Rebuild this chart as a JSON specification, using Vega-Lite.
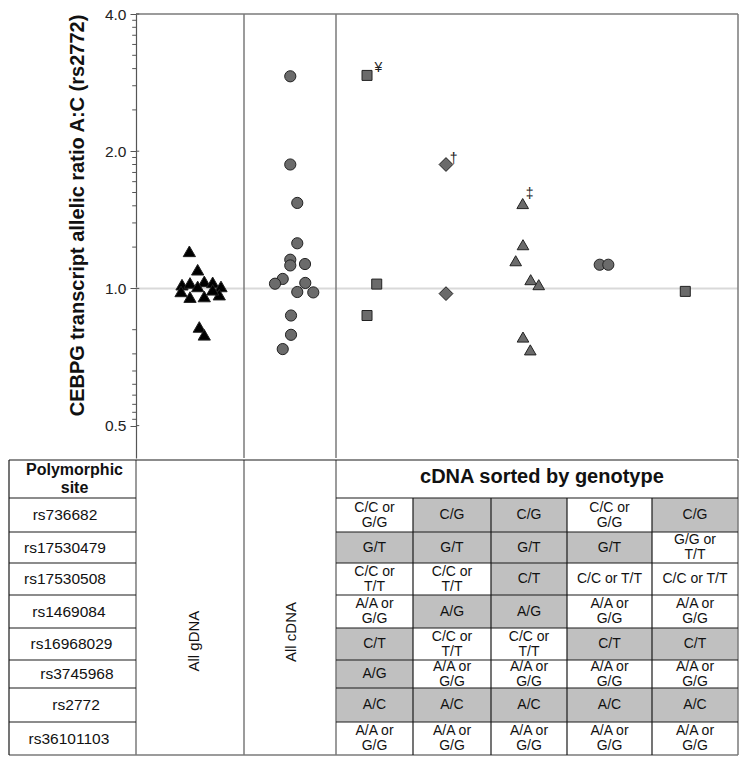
{
  "$schema": "https://vega.github.io/schema/vega-lite/v6.json",
  "padding": {"left": 8, "top": 7, "right": 9, "bottom": 10},
  "spacing": 0,
  "config": {"font": "Liberation Sans", "view": {"stroke": null}},
  "resolve": {"scale": {"x": "independent", "y": "independent"}},
  "vconcat": [
    {
      "width": 602,
      "height": 444,
      "layer": [
        {
          "data": {"values": [{}]},
          "mark": {"type": "rule", "color": "#d9d9d9", "strokeWidth": 2},
          "encoding": {
            "x": {"datum": 0, "type": "quantitative", "scale": {"type": "linear", "domain": [-1, 0, 1, 2, 3, 4, 5, 6, 7], "range": [-127, 0, 108, 200, 277, 355, 431, 516, 602], "nice": false, "zero": false}, "axis": null},
            "x2": {"datum": 7},
            "y": {"datum": 1, "type": "quantitative", "scale": {"type": "log", "domain": [0.4245, 4], "nice": false}}
          }
        },
        {
          "data": {"values": [{"edge": 1}, {"edge": 2}, {"edge": 7}]},
          "mark": {"type": "rule", "color": "#7a7a7a", "strokeWidth": 1.5},
          "encoding": {
            "x": {"field": "edge", "type": "quantitative", "axis": null}
          }
        },
        {
          "data": {"values": [{}]},
          "mark": {"type": "rule", "color": "#7a7a7a", "strokeWidth": 1.5},
          "encoding": {
            "x": {"datum": 0, "type": "quantitative", "axis": null},
            "x2": {"datum": 7},
            "y": {"datum": 4, "type": "quantitative"}
          }
        },
        {
          "data": {"values": [
            {"minor": 0.51613}, {"minor": 0.53475}, {"minor": 0.55669}, {"minor": 0.58313}, {"minor": 0.61603}, {"minor": 0.65882}, {"minor": 0.71841}, {"minor": 0.81168},
            {"minor": 1.23202}, {"minor": 1.39197}, {"minor": 1.51787}, {"minor": 1.62331}, {"minor": 1.71489}, {"minor": 1.79633}, {"minor": 1.87002}, {"minor": 1.93751},
            {"minor": 2.46404}, {"minor": 2.78394}, {"minor": 3.03574}, {"minor": 3.24662}, {"minor": 3.42978}, {"minor": 3.59266}, {"minor": 3.74004}, {"minor": 3.87502}
          ]},
          "mark": {"type": "rule", "color": "#555555", "strokeWidth": 1},
          "encoding": {
            "x": {"datum": -0.03, "type": "quantitative", "axis": null},
            "x2": {"datum": 0},
            "y": {"field": "minor", "type": "quantitative"}
          }
        },
        {
          "data": {"values": [{"major": 0.5}, {"major": 1}, {"major": 2}, {"major": 4}]},
          "mark": {"type": "rule", "color": "#555555", "strokeWidth": 1},
          "encoding": {
            "x": {"datum": 0, "type": "quantitative", "axis": null},
            "x2": {"datum": 0.03},
            "y": {"field": "major", "type": "quantitative"}
          }
        },
        {
          "data": {"values": [
            {"set": "gDNA", "pos": 0.494, "ratio": 1.206},
            {"set": "gDNA", "pos": 0.571, "ratio": 1.099},
            {"set": "gDNA", "pos": 0.426, "ratio": 1.019},
            {"set": "gDNA", "pos": 0.5, "ratio": 1.028},
            {"set": "gDNA", "pos": 0.632, "ratio": 1.036},
            {"set": "gDNA", "pos": 0.71, "ratio": 1.031},
            {"set": "gDNA", "pos": 0.787, "ratio": 1.01},
            {"set": "gDNA", "pos": 0.417, "ratio": 0.985},
            {"set": "gDNA", "pos": 0.571, "ratio": 1.01},
            {"set": "gDNA", "pos": 0.5, "ratio": 0.957},
            {"set": "gDNA", "pos": 0.632, "ratio": 0.96},
            {"set": "gDNA", "pos": 0.771, "ratio": 0.969},
            {"set": "gDNA", "pos": 0.71, "ratio": 0.993},
            {"set": "gDNA", "pos": 0.586, "ratio": 0.823},
            {"set": "gDNA", "pos": 0.632, "ratio": 0.791},
            {"set": "cDNA", "pos": 1.503, "ratio": 2.92},
            {"set": "cDNA", "pos": 1.503, "ratio": 1.87},
            {"set": "cDNA", "pos": 1.579, "ratio": 1.54},
            {"set": "cDNA", "pos": 1.579, "ratio": 1.256},
            {"set": "cDNA", "pos": 1.503, "ratio": 1.156},
            {"set": "cDNA", "pos": 1.503, "ratio": 1.123},
            {"set": "cDNA", "pos": 1.663, "ratio": 1.131},
            {"set": "cDNA", "pos": 1.421, "ratio": 1.049},
            {"set": "cDNA", "pos": 1.337, "ratio": 1.024},
            {"set": "cDNA", "pos": 1.666, "ratio": 1.028},
            {"set": "cDNA", "pos": 1.579, "ratio": 0.982},
            {"set": "cDNA", "pos": 1.753, "ratio": 0.98},
            {"set": "cDNA", "pos": 1.511, "ratio": 0.872},
            {"set": "cDNA", "pos": 1.511, "ratio": 0.791},
            {"set": "cDNA", "pos": 1.421, "ratio": 0.736},
            {"set": "G1", "pos": 2.403, "ratio": 2.933},
            {"set": "G1", "pos": 2.529, "ratio": 1.022},
            {"set": "G1", "pos": 2.403, "ratio": 0.872},
            {"set": "G2", "pos": 3.423, "ratio": 1.87},
            {"set": "G2", "pos": 3.423, "ratio": 0.974},
            {"set": "G3", "pos": 4.417, "ratio": 1.535},
            {"set": "G3", "pos": 4.421, "ratio": 1.247},
            {"set": "G3", "pos": 4.325, "ratio": 1.15},
            {"set": "G3", "pos": 4.522, "ratio": 1.045},
            {"set": "G3", "pos": 4.628, "ratio": 1.019},
            {"set": "G3", "pos": 4.421, "ratio": 0.782},
            {"set": "G3", "pos": 4.517, "ratio": 0.733},
            {"set": "G4", "pos": 5.385, "ratio": 1.127},
            {"set": "G4", "pos": 5.486, "ratio": 1.127},
            {"set": "G5", "pos": 6.387, "ratio": 0.985}
          ]},
          "mark": {"type": "point", "filled": true, "opacity": 1, "stroke": "#222222", "strokeWidth": 1},
          "encoding": {
            "x": {"field": "pos", "type": "quantitative", "axis": null},
            "y": {
              "field": "ratio",
              "type": "quantitative",
              "axis": {
                "orient": "left",
                "values": [0.5, 1, 2, 4],
                "format": ".1f",
                "tickSize": 6,
                "title": "CEBPG transcript allelic ratio A:C (rs2772)",
                "titleFontSize": 20,
                "titleFontWeight": "bold",
                "titleColor": "#111111",
                "titlePadding": 17,
                "titleY": 201,
                "labelFontSize": 15.5,
                "labelColor": "#222222",
                "labelPadding": 4,
                "labelOverlap": false,
                "domainColor": "#555555",
                "domainWidth": 1.2,
                "tickColor": "#555555",
                "tickWidth": 1,
                "grid": false
              }
            },
            "shape": {"field": "set", "type": "nominal", "legend": null, "scale": {"type": "ordinal", "domain": ["gDNA", "cDNA", "G1", "G2", "G3", "G4", "G5"], "range": ["triangle-up", "circle", "square", "diamond", "triangle-up", "circle", "square"]}},
            "fill": {"field": "set", "type": "nominal", "legend": null, "scale": {"type": "ordinal", "domain": ["gDNA", "cDNA", "G1", "G2", "G3", "G4", "G5"], "range": ["#000000", "#6b6b6b", "#6b6b6b", "#6b6b6b", "#6b6b6b", "#6b6b6b", "#6b6b6b"]}},
            "size": {"field": "set", "type": "nominal", "legend": null, "scale": {"type": "ordinal", "domain": ["gDNA", "cDNA", "G1", "G2", "G3", "G4", "G5"], "range": [150, 125, 100, 190, 135, 125, 100]}}
          }
        },
        {
          "data": {"values": [
            {"note": "¥", "pos": 2.549, "ratio": 3.05},
            {"note": "†", "pos": 3.522, "ratio": 1.918},
            {"note": "‡", "pos": 4.509, "ratio": 1.615}
          ]},
          "mark": {"type": "text", "fontSize": 14, "color": "#222222", "align": "center", "baseline": "middle"},
          "encoding": {
            "x": {"field": "pos", "type": "quantitative", "axis": null},
            "y": {"field": "ratio", "type": "quantitative"},
            "text": {"field": "note"}
          }
        }
      ]
    },
    {
      "width": 602,
      "height": 295,
      "layer": [
        {
          "data": {"name": "cells", "values": [
            {"site": "rs736682", "x0": 2, "x1": 3, "y0": 1, "y1": 2, "xc": 2.5, "yc": 1.5, "geno": "C/C or\nG/G", "zyg": "hom"},
            {"site": "rs736682", "x0": 3, "x1": 4, "y0": 1, "y1": 2, "xc": 3.5, "yc": 1.5, "geno": "C/G", "zyg": "het"},
            {"site": "rs736682", "x0": 4, "x1": 5, "y0": 1, "y1": 2, "xc": 4.5, "yc": 1.5, "geno": "C/G", "zyg": "het"},
            {"site": "rs736682", "x0": 5, "x1": 6, "y0": 1, "y1": 2, "xc": 5.5, "yc": 1.5, "geno": "C/C or\nG/G", "zyg": "hom"},
            {"site": "rs736682", "x0": 6, "x1": 7, "y0": 1, "y1": 2, "xc": 6.5, "yc": 1.5, "geno": "C/G", "zyg": "het"},
            {"site": "rs17530479", "x0": 2, "x1": 3, "y0": 2, "y1": 3, "xc": 2.5, "yc": 2.5, "geno": "G/T", "zyg": "het"},
            {"site": "rs17530479", "x0": 3, "x1": 4, "y0": 2, "y1": 3, "xc": 3.5, "yc": 2.5, "geno": "G/T", "zyg": "het"},
            {"site": "rs17530479", "x0": 4, "x1": 5, "y0": 2, "y1": 3, "xc": 4.5, "yc": 2.5, "geno": "G/T", "zyg": "het"},
            {"site": "rs17530479", "x0": 5, "x1": 6, "y0": 2, "y1": 3, "xc": 5.5, "yc": 2.5, "geno": "G/T", "zyg": "het"},
            {"site": "rs17530479", "x0": 6, "x1": 7, "y0": 2, "y1": 3, "xc": 6.5, "yc": 2.5, "geno": "G/G or\nT/T", "zyg": "hom"},
            {"site": "rs17530508", "x0": 2, "x1": 3, "y0": 3, "y1": 4, "xc": 2.5, "yc": 3.5, "geno": "C/C or\nT/T", "zyg": "hom"},
            {"site": "rs17530508", "x0": 3, "x1": 4, "y0": 3, "y1": 4, "xc": 3.5, "yc": 3.5, "geno": "C/C or\nT/T", "zyg": "hom"},
            {"site": "rs17530508", "x0": 4, "x1": 5, "y0": 3, "y1": 4, "xc": 4.5, "yc": 3.5, "geno": "C/T", "zyg": "het"},
            {"site": "rs17530508", "x0": 5, "x1": 6, "y0": 3, "y1": 4, "xc": 5.5, "yc": 3.5, "geno": "C/C or T/T", "zyg": "hom"},
            {"site": "rs17530508", "x0": 6, "x1": 7, "y0": 3, "y1": 4, "xc": 6.5, "yc": 3.5, "geno": "C/C or T/T", "zyg": "hom"},
            {"site": "rs1469084", "x0": 2, "x1": 3, "y0": 4, "y1": 5, "xc": 2.5, "yc": 4.5, "geno": "A/A or\nG/G", "zyg": "hom"},
            {"site": "rs1469084", "x0": 3, "x1": 4, "y0": 4, "y1": 5, "xc": 3.5, "yc": 4.5, "geno": "A/G", "zyg": "het"},
            {"site": "rs1469084", "x0": 4, "x1": 5, "y0": 4, "y1": 5, "xc": 4.5, "yc": 4.5, "geno": "A/G", "zyg": "het"},
            {"site": "rs1469084", "x0": 5, "x1": 6, "y0": 4, "y1": 5, "xc": 5.5, "yc": 4.5, "geno": "A/A or\nG/G", "zyg": "hom"},
            {"site": "rs1469084", "x0": 6, "x1": 7, "y0": 4, "y1": 5, "xc": 6.5, "yc": 4.5, "geno": "A/A or\nG/G", "zyg": "hom"},
            {"site": "rs16968029", "x0": 2, "x1": 3, "y0": 5, "y1": 6, "xc": 2.5, "yc": 5.5, "geno": "C/T", "zyg": "het"},
            {"site": "rs16968029", "x0": 3, "x1": 4, "y0": 5, "y1": 6, "xc": 3.5, "yc": 5.5, "geno": "C/C or\nT/T", "zyg": "hom"},
            {"site": "rs16968029", "x0": 4, "x1": 5, "y0": 5, "y1": 6, "xc": 4.5, "yc": 5.5, "geno": "C/C or\nT/T", "zyg": "hom"},
            {"site": "rs16968029", "x0": 5, "x1": 6, "y0": 5, "y1": 6, "xc": 5.5, "yc": 5.5, "geno": "C/T", "zyg": "het"},
            {"site": "rs16968029", "x0": 6, "x1": 7, "y0": 5, "y1": 6, "xc": 6.5, "yc": 5.5, "geno": "C/T", "zyg": "het"},
            {"site": "rs3745968", "x0": 2, "x1": 3, "y0": 6, "y1": 7, "xc": 2.5, "yc": 6.5, "geno": "A/G", "zyg": "het"},
            {"site": "rs3745968", "x0": 3, "x1": 4, "y0": 6, "y1": 7, "xc": 3.5, "yc": 6.5, "geno": "A/A or\nG/G", "zyg": "hom"},
            {"site": "rs3745968", "x0": 4, "x1": 5, "y0": 6, "y1": 7, "xc": 4.5, "yc": 6.5, "geno": "A/A or\nG/G", "zyg": "hom"},
            {"site": "rs3745968", "x0": 5, "x1": 6, "y0": 6, "y1": 7, "xc": 5.5, "yc": 6.5, "geno": "A/A or\nG/G", "zyg": "hom"},
            {"site": "rs3745968", "x0": 6, "x1": 7, "y0": 6, "y1": 7, "xc": 6.5, "yc": 6.5, "geno": "A/A or\nG/G", "zyg": "hom"},
            {"site": "rs2772", "x0": 2, "x1": 3, "y0": 7, "y1": 8, "xc": 2.5, "yc": 7.5, "geno": "A/C", "zyg": "het"},
            {"site": "rs2772", "x0": 3, "x1": 4, "y0": 7, "y1": 8, "xc": 3.5, "yc": 7.5, "geno": "A/C", "zyg": "het"},
            {"site": "rs2772", "x0": 4, "x1": 5, "y0": 7, "y1": 8, "xc": 4.5, "yc": 7.5, "geno": "A/C", "zyg": "het"},
            {"site": "rs2772", "x0": 5, "x1": 6, "y0": 7, "y1": 8, "xc": 5.5, "yc": 7.5, "geno": "A/C", "zyg": "het"},
            {"site": "rs2772", "x0": 6, "x1": 7, "y0": 7, "y1": 8, "xc": 6.5, "yc": 7.5, "geno": "A/C", "zyg": "het"},
            {"site": "rs36101103", "x0": 2, "x1": 3, "y0": 8, "y1": 9, "xc": 2.5, "yc": 8.5, "geno": "A/A or\nG/G", "zyg": "hom"},
            {"site": "rs36101103", "x0": 3, "x1": 4, "y0": 8, "y1": 9, "xc": 3.5, "yc": 8.5, "geno": "A/A or\nG/G", "zyg": "hom"},
            {"site": "rs36101103", "x0": 4, "x1": 5, "y0": 8, "y1": 9, "xc": 4.5, "yc": 8.5, "geno": "A/A or\nG/G", "zyg": "hom"},
            {"site": "rs36101103", "x0": 5, "x1": 6, "y0": 8, "y1": 9, "xc": 5.5, "yc": 8.5, "geno": "A/A or\nG/G", "zyg": "hom"},
            {"site": "rs36101103", "x0": 6, "x1": 7, "y0": 8, "y1": 9, "xc": 6.5, "yc": 8.5, "geno": "A/A or\nG/G", "zyg": "hom"}
          ]},
          "transform": [{"filter": "datum.zyg == 'het'"}],
          "mark": {"type": "rect", "fill": "#c0c0c0"},
          "encoding": {
            "x": {"field": "x0", "type": "quantitative", "scale": {"type": "linear", "domain": [-1, 0, 1, 2, 3, 4, 5, 6, 7], "range": [-127, 0, 108, 200, 277, 355, 431, 516, 602], "nice": false, "zero": false}, "axis": null},
            "x2": {"field": "x1"},
            "y": {"field": "y0", "type": "quantitative", "scale": {"type": "linear", "domain": [0, 1, 2, 3, 4, 5, 6, 7, 8, 9], "range": [0, 38, 72, 103, 135, 168, 200, 228, 262, 295], "nice": false, "zero": false}, "axis": null},
            "y2": {"field": "y1"}
          }
        },
        {
          "data": {"name": "lines", "values": [
            {"x0": -1, "x1": 7, "y0": 0, "y1": 0, "kind": "dark"},
            {"x0": -1, "x1": 0, "y0": 1, "y1": 1, "kind": "dark"},
            {"x0": 2, "x1": 7, "y0": 1, "y1": 1, "kind": "dark"},
            {"x0": -1, "x1": 0, "y0": 2, "y1": 2, "kind": "dark"},
            {"x0": 2, "x1": 7, "y0": 2, "y1": 2, "kind": "dark"},
            {"x0": -1, "x1": 0, "y0": 3, "y1": 3, "kind": "dark"},
            {"x0": 2, "x1": 7, "y0": 3, "y1": 3, "kind": "dark"},
            {"x0": -1, "x1": 0, "y0": 4, "y1": 4, "kind": "dark"},
            {"x0": 2, "x1": 7, "y0": 4, "y1": 4, "kind": "dark"},
            {"x0": -1, "x1": 0, "y0": 5, "y1": 5, "kind": "dark"},
            {"x0": 2, "x1": 7, "y0": 5, "y1": 5, "kind": "dark"},
            {"x0": -1, "x1": 0, "y0": 6, "y1": 6, "kind": "dark"},
            {"x0": 2, "x1": 7, "y0": 6, "y1": 6, "kind": "dark"},
            {"x0": -1, "x1": 0, "y0": 7, "y1": 7, "kind": "dark"},
            {"x0": 2, "x1": 7, "y0": 7, "y1": 7, "kind": "dark"},
            {"x0": -1, "x1": 0, "y0": 8, "y1": 8, "kind": "dark"},
            {"x0": 2, "x1": 7, "y0": 8, "y1": 8, "kind": "dark"},
            {"x0": -1, "x1": 7, "y0": 9, "y1": 9, "kind": "gray"},
            {"x0": -1, "x1": -1, "y0": 0, "y1": 9, "kind": "dark"},
            {"x0": 0, "x1": 0, "y0": 0, "y1": 9, "kind": "gray"},
            {"x0": 1, "x1": 1, "y0": 0, "y1": 9, "kind": "gray"},
            {"x0": 2, "x1": 2, "y0": 0, "y1": 9, "kind": "gray"},
            {"x0": 3, "x1": 3, "y0": 1, "y1": 9, "kind": "dark"},
            {"x0": 4, "x1": 4, "y0": 1, "y1": 9, "kind": "dark"},
            {"x0": 5, "x1": 5, "y0": 1, "y1": 9, "kind": "dark"},
            {"x0": 6, "x1": 6, "y0": 1, "y1": 9, "kind": "dark"},
            {"x0": 7, "x1": 7, "y0": 0, "y1": 9, "kind": "gray"}
          ]},
          "transform": [{"filter": "datum.kind == 'gray'"}],
          "mark": {"type": "rule", "strokeWidth": 1.5, "color": "#7a7a7a"},
          "encoding": {
            "x": {"field": "x0", "type": "quantitative", "axis": null},
            "x2": {"field": "x1"},
            "y": {"field": "y0", "type": "quantitative", "axis": null},
            "y2": {"field": "y1"}
          }
        },
        {
          "data": {"name": "lines"},
          "transform": [{"filter": "datum.kind == 'dark'"}],
          "mark": {"type": "rule", "strokeWidth": 1.2, "color": "#1a1a1a"},
          "encoding": {
            "x": {"field": "x0", "type": "quantitative", "axis": null},
            "x2": {"field": "x1"},
            "y": {"field": "y0", "type": "quantitative", "axis": null},
            "y2": {"field": "y1"}
          }
        },
        {
          "data": {"name": "cells"},
          "transform": [{"filter": "indexof(datum.geno, '\\n') < 0"}],
          "mark": {"type": "text", "fontSize": 14, "color": "#111111", "align": "center", "baseline": "middle"},
          "encoding": {
            "x": {"field": "xc", "type": "quantitative", "axis": null},
            "y": {"field": "yc", "type": "quantitative", "axis": null},
            "text": {"field": "geno"}
          }
        },
        {
          "data": {"name": "cells"},
          "transform": [{"filter": "indexof(datum.geno, '\\n') >= 0"}],
          "mark": {"type": "text", "fontSize": 14, "lineBreak": "\n", "lineHeight": 15, "dy": -7.5, "color": "#111111", "align": "center", "baseline": "middle"},
          "encoding": {
            "x": {"field": "xc", "type": "quantitative", "axis": null},
            "y": {"field": "yc", "type": "quantitative", "axis": null},
            "text": {"field": "geno"}
          }
        },
        {
          "data": {"values": [
            {"site": "rs736682", "xc": -0.559, "yc": 1.5},
            {"site": "rs17530479", "xc": -0.559, "yc": 2.5},
            {"site": "rs17530508", "xc": -0.559, "yc": 3.5},
            {"site": "rs1469084", "xc": -0.528, "yc": 4.5},
            {"site": "rs16968029", "xc": -0.508, "yc": 5.5},
            {"site": "rs3745968", "xc": -0.465, "yc": 6.5},
            {"site": "rs2772", "xc": -0.472, "yc": 7.5},
            {"site": "rs36101103", "xc": -0.528, "yc": 8.5}
          ]},
          "mark": {"type": "text", "fontSize": 15.5, "color": "#111111", "align": "center", "baseline": "middle"},
          "encoding": {
            "x": {"field": "xc", "type": "quantitative", "axis": null},
            "y": {"field": "yc", "type": "quantitative", "axis": null},
            "text": {"field": "site"}
          }
        },
        {
          "data": {"values": [{"label": "Polymorphic\nsite", "xc": -0.484, "yc": 0.5}]},
          "mark": {"type": "text", "fontSize": 16, "fontWeight": "bold", "lineBreak": "\n", "lineHeight": 18, "dy": -9, "color": "#111111", "align": "center", "baseline": "middle"},
          "encoding": {
            "x": {"field": "xc", "type": "quantitative", "axis": null},
            "y": {"field": "yc", "type": "quantitative", "axis": null},
            "text": {"field": "label"}
          }
        },
        {
          "data": {"values": [{"label": "cDNA sorted by genotype", "xc": 4.67, "yc": 0.46}]},
          "mark": {"type": "text", "fontSize": 20, "fontWeight": "bold", "color": "#111111", "align": "center", "baseline": "middle"},
          "encoding": {
            "x": {"field": "xc", "type": "quantitative", "axis": null},
            "y": {"field": "yc", "type": "quantitative", "axis": null},
            "text": {"field": "label"}
          }
        },
        {
          "data": {"values": [
            {"label": "All gDNA", "xc": 0.537, "yc": 5.41},
            {"label": "All cDNA", "xc": 1.51, "yc": 5.125}
          ]},
          "mark": {"type": "text", "fontSize": 15, "angle": 270, "color": "#111111", "align": "center", "baseline": "middle"},
          "encoding": {
            "x": {"field": "xc", "type": "quantitative", "axis": null},
            "y": {"field": "yc", "type": "quantitative", "axis": null},
            "text": {"field": "label"}
          }
        }
      ]
    }
  ]
}
